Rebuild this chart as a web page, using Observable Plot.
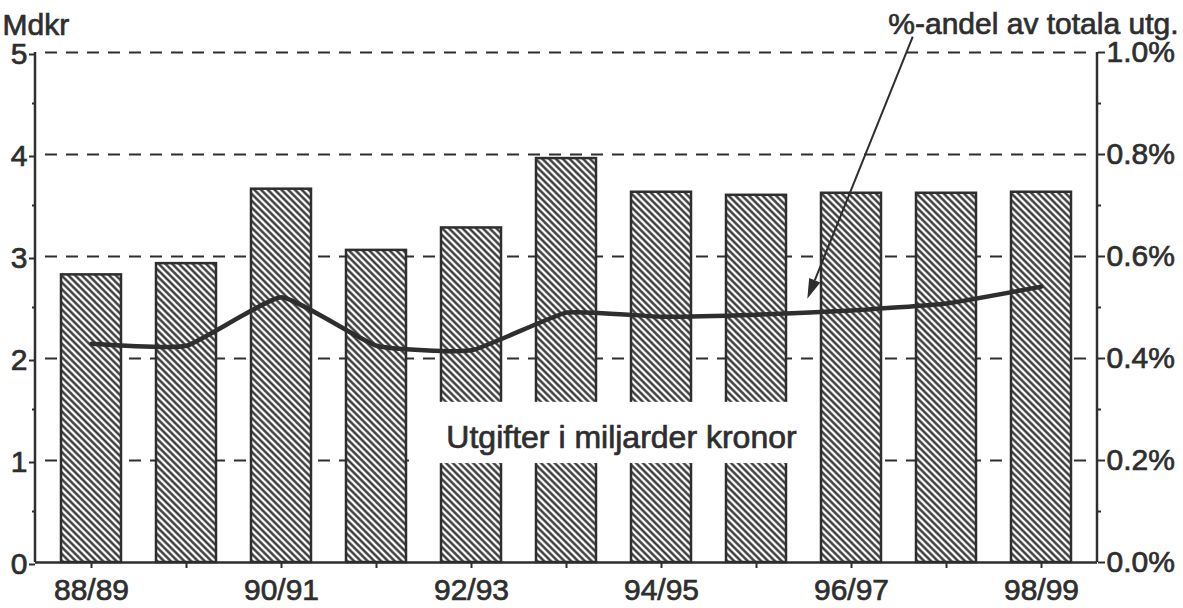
<!DOCTYPE html>
<html><head><meta charset="utf-8">
<script src="https://cdn.jsdelivr.net/npm/d3@7"></script>
<script src="https://cdn.jsdelivr.net/npm/@observablehq/plot@0.6"></script>
<style>
body{margin:0;background:#fff;}
#chart svg{display:block;}
#chart text{stroke:#2e2e2e;stroke-width:0.7px;}
</style></head><body><div id="chart"></div>
<script>
// ---- data ----
const years = ["88/89","89/90","90/91","91/92","92/93","93/94","94/95","95/96","96/97","97/98","98/99"];
const expenditure = [2.82, 2.93, 3.66, 3.06, 3.28, 3.96, 3.63, 3.60, 3.62, 3.62, 3.63]; // Mdkr
const sharePct = [0.429, 0.425, 0.520, 0.425, 0.416, 0.490, 0.482, 0.486, 0.494, 0.508, 0.541]; // % of total
const xTickLabels = ["88/89","90/91","92/93","94/95","96/97","98/99"];
const leftTicks = [0, 1, 2, 3, 4, 5];
const leftTickLabels = ["0","1","2","3","4","5"];
const rightTickLabels = ["0.0%","0.2%","0.4%","0.6%","0.8%","1.0%"];
const minorTicks = [0.5, 1.5, 2.5, 3.5, 4.5];
const gridValues = [1, 2, 3, 4, 5];
const PCT_TO_MDKR = 5; // 1.0 % on the right axis corresponds to 5 Mdkr on the left
const leftTitle = "Mdkr";
const rightTitle = "%-andel av totala utg.";
const barNote = "Utgifter i miljarder kronor";
const noteBox = {from: "92/93", to: "96/97", y1: 0.97, y2: 1.57, textY: 1.22};
const arrowTail = {year: "97/98", offset: -0.35, value: 5.15};
const arrowHead = {year: "96/97", offset: -0.46, value: 2.58};

const data = years.map((year, i) => ({year, value: expenditure[i], pct: sharePct[i]}));
const ink = "#2e2e2e";
const font = "'Liberation Sans', Arial, sans-serif";

const chart = Plot.plot({
  width: 1183, height: 608,
  marginLeft: 35, marginRight: 86, marginTop: 52, marginBottom: 46,
  style: {fontFamily: font, fontSize: "30px", color: ink, background: "#fff"},
  x: {type: "band", domain: years, paddingInner: 0.37, paddingOuter: 0.24, label: null},
  y: {domain: [0, 5], label: null},
  marks: [
    Plot.ruleY(gridValues, {stroke: ink, strokeWidth: 2, strokeDasharray: "12,9", insetLeft: 10, insetRight: 9}),
    Plot.barY(data, {x: "year", y: "value", fill: "url(#hatch)", stroke: ink, strokeWidth: 2.5}),
    Plot.line(data, {x: "year", y: d => d.pct * PCT_TO_MDKR, stroke: ink, strokeWidth: 4.5, curve: "cardinal", tension: 0.6}),
    Plot.ruleY([0], {stroke: ink, strokeWidth: 2.5}),
    Plot.axisX({ticks: years, tickFormat: d => xTickLabels.includes(d) ? d : "", tickSize: 6, tickPadding: 10, stroke: ink, strokeWidth: 2, fill: ink}),
    Plot.axisY({anchor: "left", ticks: leftTicks, tickFormat: d => leftTickLabels[leftTicks.indexOf(d)], tickSize: 6, tickPadding: 2, dy: 2, stroke: ink, strokeWidth: 2, fill: ink}),
    Plot.axisY({anchor: "left", ticks: minorTicks, tickFormat: () => "", tickSize: 3, stroke: ink, strokeWidth: 2}),
    Plot.axisY({anchor: "right", ticks: leftTicks, tickFormat: d => rightTickLabels[leftTicks.indexOf(d)], tickSize: 7, tickPadding: 2, stroke: ink, strokeWidth: 2, fill: ink}),
    Plot.axisY({anchor: "right", ticks: minorTicks, tickFormat: () => "", tickSize: 3, stroke: ink, strokeWidth: 2}),
    Plot.text([leftTitle], {frameAnchor: "top-left", textAnchor: "start", dx: -33, dy: -39, fill: ink}),
    Plot.text([rightTitle], {frameAnchor: "top-right", textAnchor: "end", dx: 81, dy: -40, fill: ink})
  ]
});

// hatch pattern for bars
const svg = d3.select(chart.tagName.toLowerCase() === "svg" ? chart : chart.querySelector("svg"));
const defs = svg.insert("defs", ":first-child");
const pat = defs.append("pattern").attr("id", "hatch").attr("patternUnits", "userSpaceOnUse")
  .attr("width", 4.8).attr("height", 4.8).attr("patternTransform", "rotate(-45)");
pat.append("rect").attr("width", 4.8).attr("height", 4.8).attr("fill", "#fff");
pat.append("line").attr("x1", 2.4).attr("y1", -1).attr("x2", 2.4).attr("y2", 6)
  .attr("stroke", ink).attr("stroke-width", 2.3);

// scales for frame lines and annotations
const xs = chart.scale("x"), ys = chart.scale("y");
const gap = xs.step - xs.bandwidth;
const xLeft = xs.range[0], xRight = xs.range[1];
const g = svg.append("g");
g.append("line").attr("x1", xLeft).attr("x2", xLeft).attr("y1", ys.apply(5)).attr("y2", ys.apply(0))
  .attr("stroke", ink).attr("stroke-width", 2.5);
g.append("line").attr("x1", xRight).attr("x2", xRight).attr("y1", ys.apply(5)).attr("y2", ys.apply(0))
  .attr("stroke", ink).attr("stroke-width", 2.5);

// white box with the bar note
const bx1 = xs.apply(noteBox.from) - gap + 3;
const bx2 = xs.apply(noteBox.to) - 3;
g.append("rect").attr("x", bx1).attr("width", bx2 - bx1)
  .attr("y", ys.apply(noteBox.y2)).attr("height", ys.apply(noteBox.y1) - ys.apply(noteBox.y2))
  .attr("fill", "#fff");
g.append("text").attr("x", (bx1 + bx2) / 2 + 8).attr("y", ys.apply(noteBox.textY)).attr("dy", "0.32em")
  .attr("text-anchor", "middle").attr("fill", ink).attr("font-family", font).attr("font-size", 32)
  .text(barNote);

// arrow from the right title to the line
const ax1 = xs.apply(arrowTail.year) + xs.bandwidth / 2 + arrowTail.offset * xs.step;
const ay1 = ys.apply(arrowTail.value);
const ax2 = xs.apply(arrowHead.year) + xs.bandwidth / 2 + arrowHead.offset * xs.step;
const ay2 = ys.apply(arrowHead.value);
const ang = Math.atan2(ay2 - ay1, ax2 - ax1);
const headLen = 20, headW = 6;
const bxh = ax2 - headLen * Math.cos(ang), byh = ay2 - headLen * Math.sin(ang);
g.append("line").attr("x1", ax1).attr("y1", ay1).attr("x2", bxh).attr("y2", byh)
  .attr("stroke", ink).attr("stroke-width", 2);
g.append("path").attr("d", `M${ax2},${ay2}L${bxh + headW * Math.sin(ang)},${byh - headW * Math.cos(ang)}L${bxh - headW * Math.sin(ang)},${byh + headW * Math.cos(ang)}Z`)
  .attr("fill", ink);

document.getElementById("chart").append(chart);
</script>
</body></html>
